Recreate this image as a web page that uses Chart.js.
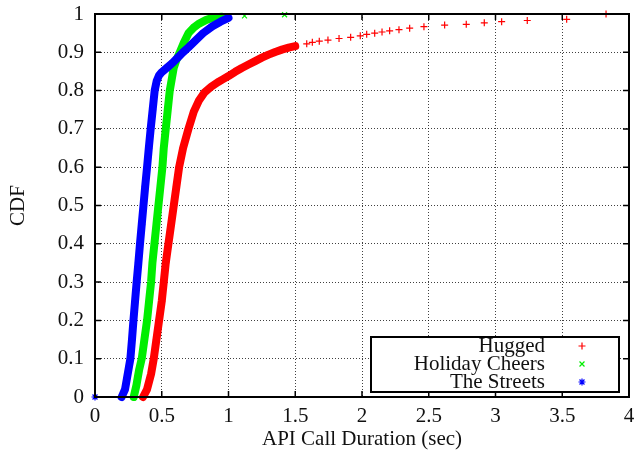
<!DOCTYPE html>
<html>
<head>
<meta charset="utf-8">
<script src="https://cdn.jsdelivr.net/npm/chart.js@4/dist/chart.umd.min.js"></script>
<style>
  html, body { margin: 0; padding: 0; background: #fff; }
  #wrap { width: 639px; height: 455px; }
</style>
</head>
<body>
<div id="wrap"><canvas id="cdfChart"></canvas></div>
<script>
// series names as in the key
const seriesNames = ['Hugged', 'Holiday Cheers', 'The Streets'];

// Hugged (red +)
const huggedX = [0.36, 0.39, 0.42, 0.44, 0.46, 0.48, 0.50, 0.515, 0.53, 0.55, 0.57, 0.59, 0.61, 0.63, 0.66, 0.70, 0.74, 0.78, 0.82, 0.87, 0.92, 0.96,
  1.0, 1.05, 1.1, 1.15, 1.2, 1.25, 1.3, 1.35, 1.4, 1.45, 1.5,
  1.586, 1.628, 1.680, 1.745, 1.828, 1.915, 1.987, 2.035, 2.095, 2.150, 2.207, 2.277, 2.357, 2.464, 2.619, 2.781, 2.916, 3.046, 3.238, 3.533, 3.828];
const huggedY = [0, 0.02, 0.06, 0.10, 0.15, 0.20, 0.25, 0.30, 0.35, 0.40, 0.45, 0.50, 0.55, 0.60, 0.65, 0.70, 0.745, 0.775, 0.795, 0.81, 0.822, 0.83,
  0.838, 0.849, 0.859, 0.868, 0.877, 0.886, 0.894, 0.901, 0.907, 0.912, 0.916,
  0.922, 0.926, 0.929, 0.932, 0.936, 0.939, 0.943, 0.947, 0.950, 0.953, 0.956, 0.959, 0.963, 0.967, 0.971, 0.973, 0.977, 0.980, 0.983, 0.986, 1.0];

// Holiday Cheers (green x)
const cheersX = [0.29, 0.31, 0.33, 0.35, 0.37, 0.39, 0.405, 0.42, 0.43, 0.445, 0.46, 0.475, 0.49, 0.505, 0.515, 0.53, 0.545, 0.56, 0.575, 0.59, 0.61, 0.635, 0.665, 0.70, 0.74, 0.78, 0.83, 0.88, 0.95, 1.12, 1.42];
const cheersY = [0, 0.03, 0.07, 0.10, 0.15, 0.20, 0.25, 0.30, 0.35, 0.40, 0.45, 0.50, 0.55, 0.60, 0.65, 0.70, 0.75, 0.80, 0.83, 0.86, 0.88, 0.90, 0.925, 0.95, 0.965, 0.975, 0.984, 0.99, 0.993, 0.995, 0.998];

// The Streets (blue *)
const streetsX = [0, 0.2, 0.225, 0.24, 0.255, 0.265, 0.277, 0.288, 0.30, 0.312, 0.325, 0.337, 0.35, 0.363, 0.376, 0.39, 0.403, 0.417, 0.432, 0.447, 0.462, 0.48, 0.50, 0.54, 0.58, 0.62, 0.66, 0.70, 0.75, 0.81, 0.88, 0.94, 1.0];
const streetsY = [0, 0, 0.02, 0.05, 0.08, 0.10, 0.15, 0.20, 0.25, 0.30, 0.35, 0.40, 0.45, 0.50, 0.55, 0.60, 0.65, 0.70, 0.75, 0.80, 0.825, 0.84, 0.848, 0.86, 0.872, 0.886, 0.90, 0.913, 0.93, 0.95, 0.968, 0.98, 0.99];

// tick labels
const xTicks = [0, 0.5, 1, 1.5, 2, 2.5, 3, 3.5, 4];
const yTicks = [0, 0.1, 0.2, 0.3, 0.4, 0.5, 0.6, 0.7, 0.8, 0.9, 1];

const serif = '"Liberation Serif", "Times New Roman", serif';
const textColor = '#111';

function toPoints(xs, ys) {
  return xs.map((x, i) => ({ x: x, y: ys[i] }));
}

// thick band for the dense part, single markers for the sparse tail
function band(color, lineUntil) {
  return {
    borderColor: ctx => (ctx.p0.parsed.x >= lineUntil || ctx.p1.parsed.x - ctx.p0.parsed.x > 0.1) ? 'rgba(0,0,0,0)' : color
  };
}

function makeSet(i, xs, ys, color, style, lineUntil, order) {
  return {
    label: seriesNames[i],
    data: toPoints(xs, ys),
    showLine: true,
    borderColor: color,
    backgroundColor: color,
    borderWidth: 8,
    borderCapStyle: 'round',
    borderJoinStyle: 'round',
    segment: band(color, lineUntil),
    pointStyle: style,
    pointRadius: 3.5,
    pointBorderWidth: 1.2,
    pointBorderColor: color,
    pointBackgroundColor: color,
    tension: 0,
    clip: false,
    order: order
  };
}

// inward tick marks, drawn under the data
const innerTicks = {
  id: 'innerTicks',
  beforeDatasetsDraw(chart) {
    const { ctx, chartArea: a, scales } = chart;
    ctx.save();
    ctx.strokeStyle = '#000';
    ctx.lineWidth = 1.5;
    ctx.beginPath();
    xTicks.forEach(v => {
      const px = scales.x.getPixelForValue(v);
      ctx.moveTo(px, a.bottom); ctx.lineTo(px, a.bottom - 6);
      ctx.moveTo(px, a.top); ctx.lineTo(px, a.top + 6);
    });
    yTicks.forEach(v => {
      const py = scales.y.getPixelForValue(v);
      ctx.moveTo(a.left, py); ctx.lineTo(a.left + 6, py);
      ctx.moveTo(a.right, py); ctx.lineTo(a.right - 6, py);
    });
    ctx.stroke();
    ctx.restore();
  }
};

// gnuplot style key box
const keyBox = {
  id: 'keyBox',
  afterDatasetsDraw(chart) {
    const { ctx, chartArea: a } = chart;
    const right = a.right - 10, bottom = a.bottom - 5;
    const left = right - 248, top = bottom - 55;
    ctx.save();
    ctx.fillStyle = '#fff';
    ctx.fillRect(left, top, right - left, bottom - top);
    ctx.lineWidth = 2;
    ctx.strokeStyle = '#000';
    ctx.strokeRect(left, top, right - left, bottom - top);
    ctx.font = '21px ' + serif;
    ctx.textAlign = 'right';
    ctx.textBaseline = 'middle';
    chart.data.datasets.forEach((ds, i) => {
      const y = top + 9 + i * 18;
      ctx.fillStyle = textColor;
      ctx.fillText(ds.label, right - 74, y);
      ctx.strokeStyle = ds.pointBorderColor;
      ctx.fillStyle = ds.pointBackgroundColor;
      ctx.lineWidth = 1.2;
      Chart.helpers.drawPoint(ctx, { pointStyle: ds.pointStyle, radius: 3.5, borderWidth: 1.2, rotation: 0 }, right - 37, y);
    });
    ctx.restore();
  }
};

// black frame round the plot
const frame = {
  id: 'frame',
  afterDraw(chart) {
    const { ctx, chartArea: a } = chart;
    ctx.save();
    ctx.lineWidth = 2;
    ctx.strokeStyle = '#000';
    ctx.strokeRect(a.left, a.top, a.right - a.left, a.bottom - a.top);
    ctx.restore();
  }
};

const ctx = document.getElementById('cdfChart').getContext('2d');
const cdfChart = new Chart(ctx, {
  type: 'scatter',
  data: {
    datasets: [
      makeSet(0, huggedX, huggedY, '#ff0000', 'cross', 1.5, 3),
      makeSet(1, cheersX, cheersY, '#00ee00', 'crossRot', 0.96, 2),
      makeSet(2, streetsX, streetsY, '#0000ff', 'star', 1.01, 1)
    ]
  },
  options: {
    responsive: true,
    maintainAspectRatio: false,
    animation: false,
    layout: { padding: { top: 14, right: 10, left: 0, bottom: 0 } },
    plugins: {
      legend: { display: false },
      tooltip: { enabled: false }
    },
    scales: {
      x: {
        type: 'linear',
        min: 0,
        max: 4,
        afterBuildTicks: s => { s.ticks = xTicks.map(v => ({ value: v })); },
        afterFit: s => { s.height = 58; s.paddingLeft = 0; s.paddingRight = 0; },
        ticks: { font: { family: serif, size: 21 }, color: textColor, padding: 7, maxRotation: 0, autoSkip: false, callback: v => String(v) },
        grid: { drawTicks: false, color: 'rgba(0,0,0,0.75)', lineWidth: 1 },
        border: { display: false, dash: [1, 2] },
        title: { display: true, text: 'API Call Duration (sec)', font: { family: serif, size: 21 }, color: textColor, padding: { top: 0, bottom: 3 } }
      },
      y: {
        type: 'linear',
        min: 0,
        max: 1,
        afterBuildTicks: s => { s.ticks = yTicks.map(v => ({ value: v })); },
        afterFit: s => { s.width = 95; s.paddingTop = 0; s.paddingBottom = 0; },
        ticks: { font: { family: serif, size: 21 }, color: textColor, padding: 11, autoSkip: false, callback: v => String(v) },
        grid: { drawTicks: false, color: 'rgba(0,0,0,0.75)', lineWidth: 1 },
        border: { display: false, dash: [1, 2] },
        title: { display: true, text: 'CDF', font: { family: serif, size: 21 }, color: textColor, padding: { top: 6, bottom: 0 } }
      }
    }
  },
  plugins: [innerTicks, keyBox, frame]
});
</script>
</body>
</html>
